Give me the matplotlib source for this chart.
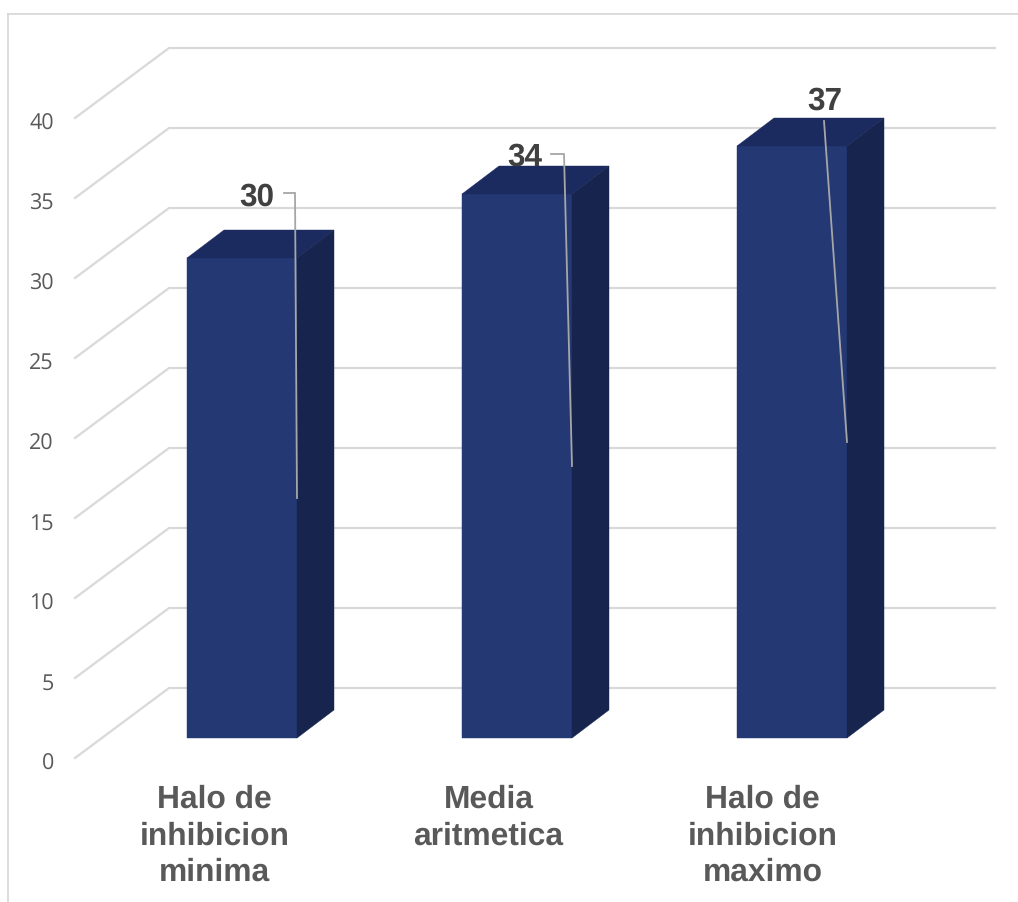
import matplotlib
matplotlib.use("Agg")
import matplotlib.pyplot as plt
from matplotlib.patches import Polygon

plt.rcParams["text.hinting"] = "no_hinting"

categories = ["Halo de\ninhibicion\nminima", "Media\naritmetica", "Halo de\ninhibicion\nmaximo"]
values = [30, 34, 37]
y_ticks = [0, 5, 10, 15, 20, 25, 30, 35, 40]

FRONT = "#243873"
TOP = "#1B2B60"
SIDE = "#16244E"
GRID = "#D9D9D9"

W, H = 1018, 902
PX_Y = 16.0      # pixels per value unit
PX_X = 275.0     # pixels between categories
X0, Y0 = 242.0, 738.0  # pixel position of first category centre on the bar floor

fig = plt.figure(figsize=(W / 100, H / 100), dpi=100, facecolor="white")
ax = fig.add_axes([0, 0, 1, 1])
ax.set_xlim(-X0 / PX_X, (W - X0) / PX_X)
ax.set_ylim((Y0 - H) / PX_Y, Y0 / PX_Y)
ax.axis("off")

half = 55 / PX_X
depth_x = 37 / PX_X
depth_y = 28 / PX_Y

def px_x(p):
    return (p - X0) / PX_X

def px_y(p):
    return (Y0 - p) / PX_Y

# outer chart frame
ax.plot([px_x(8), px_x(8)], [px_y(902), px_y(13.5)], color=GRID, lw=1.3, zorder=1)
ax.plot([px_x(8), px_x(1018)], [px_y(13.5), px_y(13.5)], color=GRID, lw=1.3, zorder=1)

# floor and wall gridlines, drawn as one bent line per tick
wall_left, wall_right, front_left = px_x(169), px_x(995), px_x(75)
floor_front = -20 / PX_Y
floor_back = 50 / PX_Y
for t in y_ticks:
    ax.plot([front_left, wall_left, wall_right],
            [t + floor_front, t + floor_back, t + floor_back],
            color=GRID, lw=1.6, zorder=2, solid_joinstyle="miter")
    ax.text(px_x(54), t + floor_front - 6 / PX_Y, str(t), ha="right", va="center",
            fontsize=15.5, color="#595959", family="Open Sans", zorder=6)

# boxes: front, top and side faces
for i, v in enumerate(values):
    l, r = i - half, i + half
    ax.add_patch(Polygon([(l, 0), (r, 0), (r, v), (l, v)], closed=True,
                         fc=FRONT, ec=FRONT, lw=0.3, zorder=3))
    ax.add_patch(Polygon([(l, v), (r, v), (r + depth_x, v + depth_y), (l + depth_x, v + depth_y)],
                         closed=True, fc=TOP, ec=TOP, lw=0.3, zorder=3))
    ax.add_patch(Polygon([(r, 0), (r + depth_x, depth_y), (r + depth_x, v + depth_y), (r, v)],
                         closed=True, fc=SIDE, ec=SIDE, lw=0.3, zorder=3))

# value labels with leader lines running to mid-height of each bar's front edge
label_x = [256.5, 525, 825]
label_y = [197, 157, 101]
leader_bend = [(284, 193, 295), (551, 154, 564), None]
for i, v in enumerate(values):
    ax.text(px_x(label_x[i]), px_y(label_y[i]), str(v), ha="center", va="center",
            fontsize=22.7, fontweight="bold", color="#404040",
            family="Liberation Sans", zorder=7)
    end = (i + half, v / 2)
    bend = leader_bend[i]
    if bend is not None:
        xs = [px_x(bend[0]), px_x(bend[2]), end[0]]
        ys = [px_y(bend[1]), px_y(bend[1]), end[1]]
    else:
        xs = [px_x(824), end[0]]
        ys = [px_y(121), end[1]]
    ax.plot(xs, ys, color="#A6A6A6", lw=1.3, zorder=6, solid_joinstyle="miter")

# category labels sit slightly left of the bar centres
for i, c in enumerate(categories):
    ax.text(px_x(214.5 + 274 * i), px_y(784.5), c, ha="center", va="top",
            fontsize=22.9, fontweight="bold", color="#595959",
            family="Liberation Sans", linespacing=1.29, zorder=7)

fig.savefig("out.png", dpi=100, facecolor="white")
